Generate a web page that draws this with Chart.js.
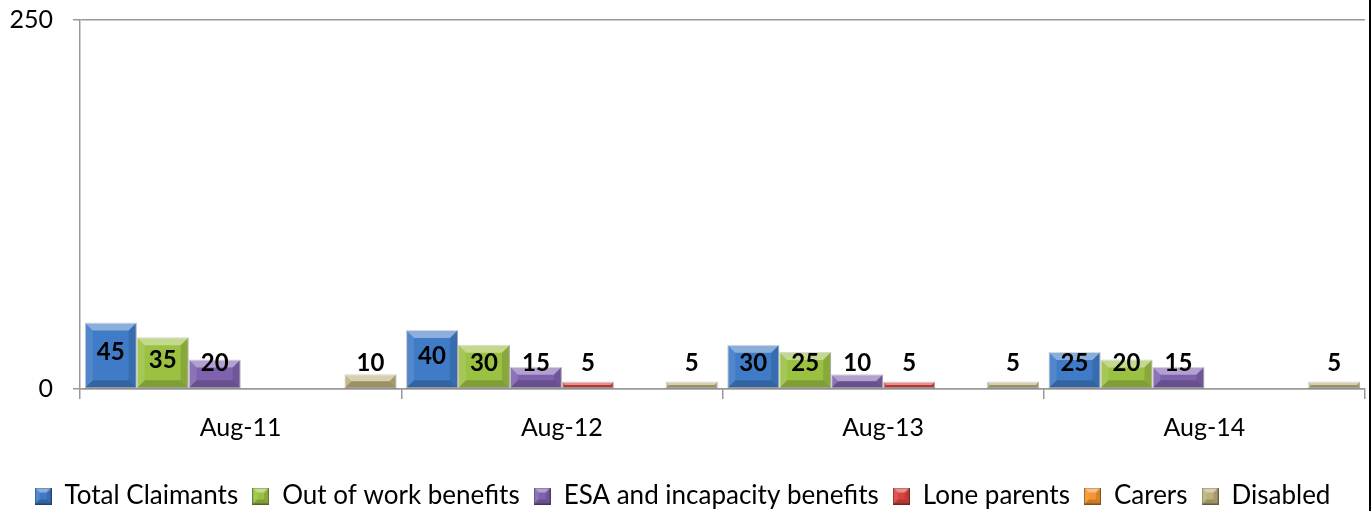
<!DOCTYPE html>
<html>
<head>
<meta charset="utf-8">
<script src="https://cdn.jsdelivr.net/npm/chart.js@4.4.1/dist/chart.umd.min.js"></script>
<style>
  html,body{margin:0;padding:0;background:#fff;}
  #wrap{width:1369px;height:511px;border-right:2px solid #000;position:relative;}
</style>
</head>
<body>
<div id="wrap"><canvas id="c"></canvas></div>
<script>
// Data
const categories = ["Aug-11","Aug-12","Aug-13","Aug-14"];
const seriesNames = ["Total Claimants","Out of work benefits","ESA and incapacity benefits","Lone parents","Carers","Disabled"];
const totalClaimants = [45,40,30,25];
const outOfWork      = [35,30,25,20];
const esaIncapacity  = [20,15,10,15];
const loneParents    = [0,5,5,0];
const carers         = [0,0,0,0];
const disabled       = [10,5,5,5];
const yMin = 0, yMax = 250, yStep = 250;

const seriesData = [totalClaimants,outOfWork,esaIncapacity,loneParents,carers,disabled];
const colors = ["#3F7BC6","#9BC143","#7F62AE","#D9433F","#F59432","#BDB07A"];
const FONT = "Lato, 'Open Sans', sans-serif";

// bevel look like the office chart
function bevel(ctx, l, t, r, b, size){
  const h = b - t, w = r - l;
  const bv = Math.min(size, h/2, w/2);
  if(bv <= 0) return;
  const poly = (pts, fill)=>{
    ctx.beginPath(); ctx.moveTo(pts[0][0],pts[0][1]);
    pts.slice(1).forEach(p=>ctx.lineTo(p[0],p[1]));
    ctx.closePath(); ctx.fillStyle = fill; ctx.fill();
  };
  poly([[l,t],[r,t],[r-bv,t+bv],[l+bv,t+bv]], "rgba(255,255,255,0.40)");
  poly([[l,t],[l+bv,t+bv],[l+bv,b-bv],[l,b]], "rgba(255,255,255,0.10)");
  poly([[r,t],[r,b],[r-bv,b-bv],[r-bv,t+bv]], "rgba(0,0,0,0.12)");
  poly([[l,b],[l+bv,b-bv],[r-bv,b-bv],[r,b]], "rgba(0,0,0,0.18)");
}

function legendIcon(color){
  const cv = document.createElement("canvas");
  cv.width = 17; cv.height = 17;
  const c = cv.getContext("2d");
  c.fillStyle = color; c.fillRect(0,0,17,17);
  bevel(c, 0, 0, 17, 17, 5);
  c.strokeStyle = "rgba(0,0,0,0.35)"; c.lineWidth = 1; c.strokeRect(0.5,0.5,16,16);
  return cv;
}
const icons = colors.map(legendIcon);

const barDecor = {
  id:"barDecor",
  afterLayout(chart){
    // push the legend a bit lower, closer to the bottom edge
    if(chart.legend){ chart.legend.top += 8; chart.legend.bottom += 8; }
  },
  afterDatasetsDraw(chart){
    const ctx = chart.ctx;
    ctx.save();
    chart.data.datasets.forEach((ds,i)=>{
      chart.getDatasetMeta(i).data.forEach((bar,j)=>{
        if(!ds.data[j]) return;
        const p = bar.getProps(["x","y","base","width"], true);
        bevel(ctx, p.x-p.width/2, p.y, p.x+p.width/2, p.base, 8);
      });
    });
    ctx.font = "bold 24px " + FONT;
    ctx.fillStyle = "#000";
    ctx.textAlign = "center";
    ctx.textBaseline = "middle";
    chart.data.datasets.forEach((ds,i)=>{
      chart.getDatasetMeta(i).data.forEach((bar,j)=>{
        const v = ds.data[j];
        if(!v) return;
        const p = bar.getProps(["x","y","base"], true);
        const ty = Math.min((p.y+p.base)/2 - 3, p.base-25);
        ctx.fillText(v, p.x, ty);
      });
    });
    ctx.restore();
  }
};

new Chart(document.getElementById("c"), {
  type:"bar",
  data:{
    labels: categories,
    datasets: seriesNames.map((name,i)=>({
      label: name,
      data: seriesData[i],
      backgroundColor: colors[i],
      borderColor: "rgba(0,0,0,0.25)",
      borderWidth: 1,
      borderSkipped: false,
      categoryPercentage: 0.97,
      barPercentage: 1.0
    }))
  },
  options:{
    responsive:true,
    maintainAspectRatio:false,
    animation:false,
    layout:{ padding:{ top:20, right:4, left:0, bottom:0 } },
    plugins:{
      tooltip:{enabled:false},
      legend:{
        position:"bottom",
        labels:{
          font:{family:FONT, size:26},
          color:"#000",
          usePointStyle:true,
          pointStyleWidth:17,
          boxHeight:17,
          padding:14,
          generateLabels(chart){
            return chart.data.datasets.map((ds,i)=>({
              text: ds.label, pointStyle: icons[i], datasetIndex:i,
              fillStyle: colors[i], strokeStyle: colors[i], lineWidth:0, hidden:false
            }));
          }
        }
      }
    },
    scales:{
      x:{
        grid:{ display:true, drawOnChartArea:false, offset:true, tickLength:10, color:"#999", lineWidth:1.5 },
        border:{ color:"#999", width:1.5 },
        ticks:{ font:{family:FONT, size:25}, color:"#000", padding:14 },
        afterFit(s){ s.height = 72; }
      },
      y:{
        min:yMin, max:yMax,
        ticks:{ stepSize:yStep, font:{family:FONT, size:25}, color:"#000", padding:20 },
        grid:{ color:"#999", lineWidth:1.5, tickLength:7 },
        border:{ color:"#999", width:1.5 },
        afterFit(s){ s.width = 80; s.paddingTop = 0; s.paddingBottom = 0; }
      }
    }
  },
  plugins:[barDecor]
});
</script>
</body>
</html>
